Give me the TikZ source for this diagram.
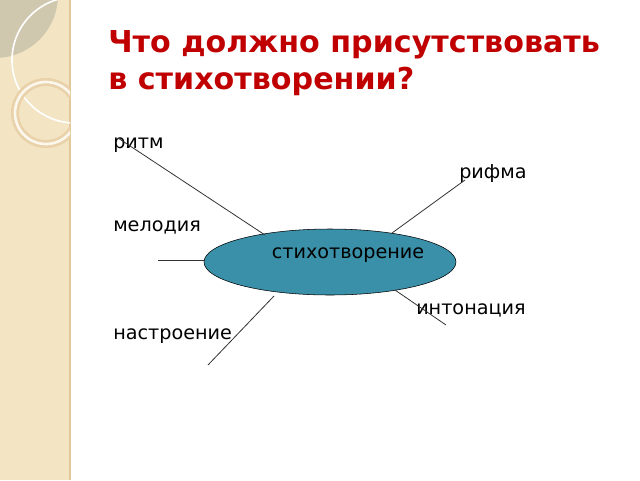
\documentclass[tikz,border=0pt]{standalone}
\usepackage{fontspec}
\setmainfont{DejaVu Sans}
\usetikzlibrary{shapes.geometric}
\definecolor{beige}{HTML}{F3E5C3}
\definecolor{titlered}{HTML}{C00000}
\definecolor{teal}{HTML}{3A90A8}
\tikzset{lbl/.style={font=\fontsize{14.4}{16}\selectfont, inner sep=0pt, anchor=west},
  conn/.style={draw=black!80, line width=0.6pt}}
\begin{document}
\begin{tikzpicture}[x=0.75pt,y=-0.75pt]
\useasboundingbox (0,0) rectangle (640,480);
\fill[white] (0,0) rectangle (640,480);
\fill[beige] (0,0) rectangle (70,480);
\draw[beige!70!brown, line width=1pt] (70,0) -- (70,480);
\begin{scope}
\clip (0,0) rectangle (70,480);
\fill[gray!30!beige] (-5,-5) circle (63*0.75pt);
\draw[white, line width=1.2pt] (75,60) circle (63*0.75pt);
\draw[beige!80!brown, line width=6pt] (46,113) circle (31*0.75pt);
\draw[white!70!beige, line width=2pt] (46,113) circle (31*0.75pt);
\end{scope}
\node[anchor=west, inner sep=0pt, font=\fontsize{22.6}{26}\bfseries, text=titlered] at (108,45) {Что должно присутствовать};
\node[anchor=west, inner sep=0pt, font=\fontsize{22.6}{26}\bfseries, text=titlered] at (108,81) {в стихотворении?};
\node[ellipse, draw=black, fill=teal, minimum width=252*0.75pt, minimum height=66*0.75pt, inner sep=0pt] (c) at (330,262) {};
\node[lbl, anchor=center] (ct) at (348,255) {стихотворение};
\node[lbl] (a) at (113,145) {ритм};
\node[lbl] (b) at (459,173) {рифма};
\node[lbl] (m) at (113,227) {мелодия};
\node[lbl] (i) at (416,310) {интонация};
\node[lbl] (n) at (113,336) {настроение};
\coordinate (a1) at (118,138); \coordinate (a2) at (265,235);
\coordinate (b1) at (465,180); \coordinate (b2) at (392,233);
\coordinate (m1) at (158,260); \coordinate (m2) at (205,260);
\coordinate (i1) at (395,290); \coordinate (i2) at (446,325);
\coordinate (n1) at (274,296); \coordinate (n2) at (208,365);
\draw[conn] (a1) -- (a2);
\draw[conn] (b1) -- (b2);
\draw[conn] (m1) -- (m2);
\draw[conn] (i1) -- (i2);
\draw[conn] (n1) -- (n2);
\end{tikzpicture}
\end{document}
